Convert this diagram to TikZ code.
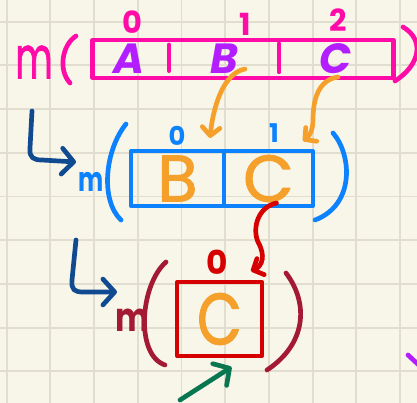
\documentclass[tikz,border=0pt]{standalone}
\usepackage{fontspec}
\setmainfont{Poppins}
\newfontfamily\inkfont[FakeBold=1.6]{Poppins}
\usetikzlibrary{arrows.meta}

\definecolor{paper}{RGB}{248,245,233}
\definecolor{gridgray}{RGB}{225,222,208}
\definecolor{hotpink}{RGB}{255,12,168}
\definecolor{violet}{RGB}{178,30,255}
\definecolor{amber}{RGB}{246,160,44}
\definecolor{sky}{RGB}{12,130,255}
\definecolor{navy}{RGB}{16,74,144}
\definecolor{scarlet}{RGB}{214,0,0}
\definecolor{wine}{RGB}{164,26,52}
\definecolor{pine}{RGB}{8,118,80}

\begin{document}
\begin{tikzpicture}[x=0.03cm,y=-0.03cm,
  pen/.style={line width=4pt,line cap=round,line join=round},
  boxpen/.style={line width=3.5pt,line join=round},
  cell/.style={inner sep=0pt,outer sep=0pt},
  barb/.style={-{Straight Barb[round,length=7pt,width=15pt]}},
  bigbarb/.style={-{Straight Barb[round,length=10pt,width=22pt]}}]

\useasboundingbox (0,0) rectangle (417,403);
\clip (0,0) rectangle (417,403);
\fill[paper] (0,0) rectangle (417,403);

% squared paper
\foreach \gx in {0,...,9}
  \draw[gridgray,line width=1.6pt] ({6.7+43.7*\gx},0) -- ++(0,403);
\foreach \gy in {0,...,8}
  \draw[gridgray,line width=1.6pt] (0,{21.7+43.7*\gy}) -- ++(417,0);


% first call: m( A | B | C )
\node[cell,hotpink,font=\inkfont\fontsize{50}{50}\selectfont,xscale=0.62,transform shape] (mA) at (34,62) {m};
\draw[pen,hotpink] (76,36) .. controls (62,45) and (58,70) .. (70,83);
\draw[pen,hotpink] (403,27) .. controls (425,40) and (420,65) .. (395,81);

\node[cell,minimum width=2.4cm,minimum height=1.14cm,text=violet,font=\bfseries\itshape\fontsize{36}{36}\selectfont] (a0) at (129,59) {A};
\node[cell,minimum width=3.3cm,minimum height=1.14cm,text=violet,font=\bfseries\itshape\fontsize{36}{36}\selectfont] (a1) at (224,59) {B};
\node[cell,minimum width=3.24cm,minimum height=1.14cm,text=violet,font=\bfseries\itshape\fontsize{36}{36}\selectfont] (a2) at (336,59) {C};

\draw[boxpen,hotpink] ([xshift=3pt]a0.north west) rectangle ([xshift=3pt]a2.south east);
\draw[boxpen,hotpink,line cap=round] ([yshift=-4pt]a0.north east) -- ([yshift=6pt]a0.south east);
\draw[boxpen,hotpink,line cap=round] ([yshift=-3pt]a1.north east) -- ([yshift=5pt]a1.south east);

\node[hotpink,font=\bfseries\fontsize{26}{26}\selectfont] (ia0) at (132,22) {0};
\node[hotpink,font=\bfseries\fontsize{26}{26}\selectfont] (ia1) at (245,24) {1};
\node[hotpink,font=\bfseries\fontsize{26}{26}\selectfont] (ia2) at (338,20) {2};


% second call: m( B | C )
\coordinate (hookB) at (32,111);
\draw[pen,navy,bigbarb] (hookB) -- ++(-2,37) .. controls +(-1,10) and +(-8,0) .. ++(12,12) -- (76,162);
\node[cell,sky,font=\bfseries\fontsize{29}{29}\selectfont,xscale=0.7,transform shape] (mB) at (91,182) {m};
\draw[pen,sky] (126,124) .. controls (105,150) and (100,200) .. (121,220);
\draw[pen,sky] (333,133) .. controls (352,155) and (355,205) .. (315,220);

\node[cell,draw=sky,boxpen,minimum width=2.79cm,minimum height=1.65cm,text=amber,font=\inkfont\fontsize{56}{56}\selectfont] (b0) at (177.5,178.5) {B};
\node[cell,draw=sky,boxpen,minimum width=2.67cm,minimum height=1.65cm,text=amber,font=\inkfont\fontsize{56}{56}\selectfont] (b1) at (268.5,178.5) {C};

\node[sky,font=\bfseries\fontsize{22}{22}\selectfont] (ib0) at (177,136) {0};
\node[sky,font=\bfseries\fontsize{22}{22}\selectfont] (ib1) at (274,133) {1};

\draw[pen,amber,barb] ([shift={(21,10)}]a1.center) .. controls +(-22,4) and +(3,-30) .. ([shift={(-14,-13)}]b0.north east);
\draw[pen,amber,barb] ([shift={(2,18)}]a2.center) .. controls +(-20,3) and +(0,-20) .. ++(-25,43) .. controls +(0,12) and +(5,-4) .. ([shift={(-10,-10)}]b1.north east);


% third call: m( C )
\coordinate (hookC) at (76,240);
\draw[pen,navy,bigbarb] (hookC) -- ++(-4,40) .. controls +(-1,10) and +(-8,0) .. ++(11,12) -- (117,292);
\node[cell,wine,font=\bfseries\fontsize{34}{34}\selectfont,xscale=0.8,transform shape] (mC) at (132,320) {m};
\draw[pen,wine] (166,262) .. controls (140,285) and (135,355) .. (165,365);
\draw[pen,wine] (286,273) .. controls (310,305) and (305,345) .. (267,370);

\node[cell,draw=scarlet,boxpen,minimum width=2.55cm,minimum height=2.22cm,text=amber,font=\inkfont\fontsize{62}{62}\selectfont] (c0) at (219.5,319) {\scalebox{0.8}[1]{C}};
\node[scarlet,font=\bfseries\fontsize{28}{28}\selectfont] (ic0) at (217,262) {0};

\draw[pen,scarlet,barb] ([shift={(8,-3)}]b1.south) .. controls (258,207) and (252,228) .. (258,242) .. controls (266,256) and (262,266) .. ([shift={(-11,-11)}]c0.north east);

\coordinate (pointer) at (180,400);
\draw[pen,pine,bigbarb] (pointer) -- ([shift={(12,11)}]c0.south);

\draw[pen,violet] (408,355) -- (422,368);

\end{tikzpicture}
\end{document}
